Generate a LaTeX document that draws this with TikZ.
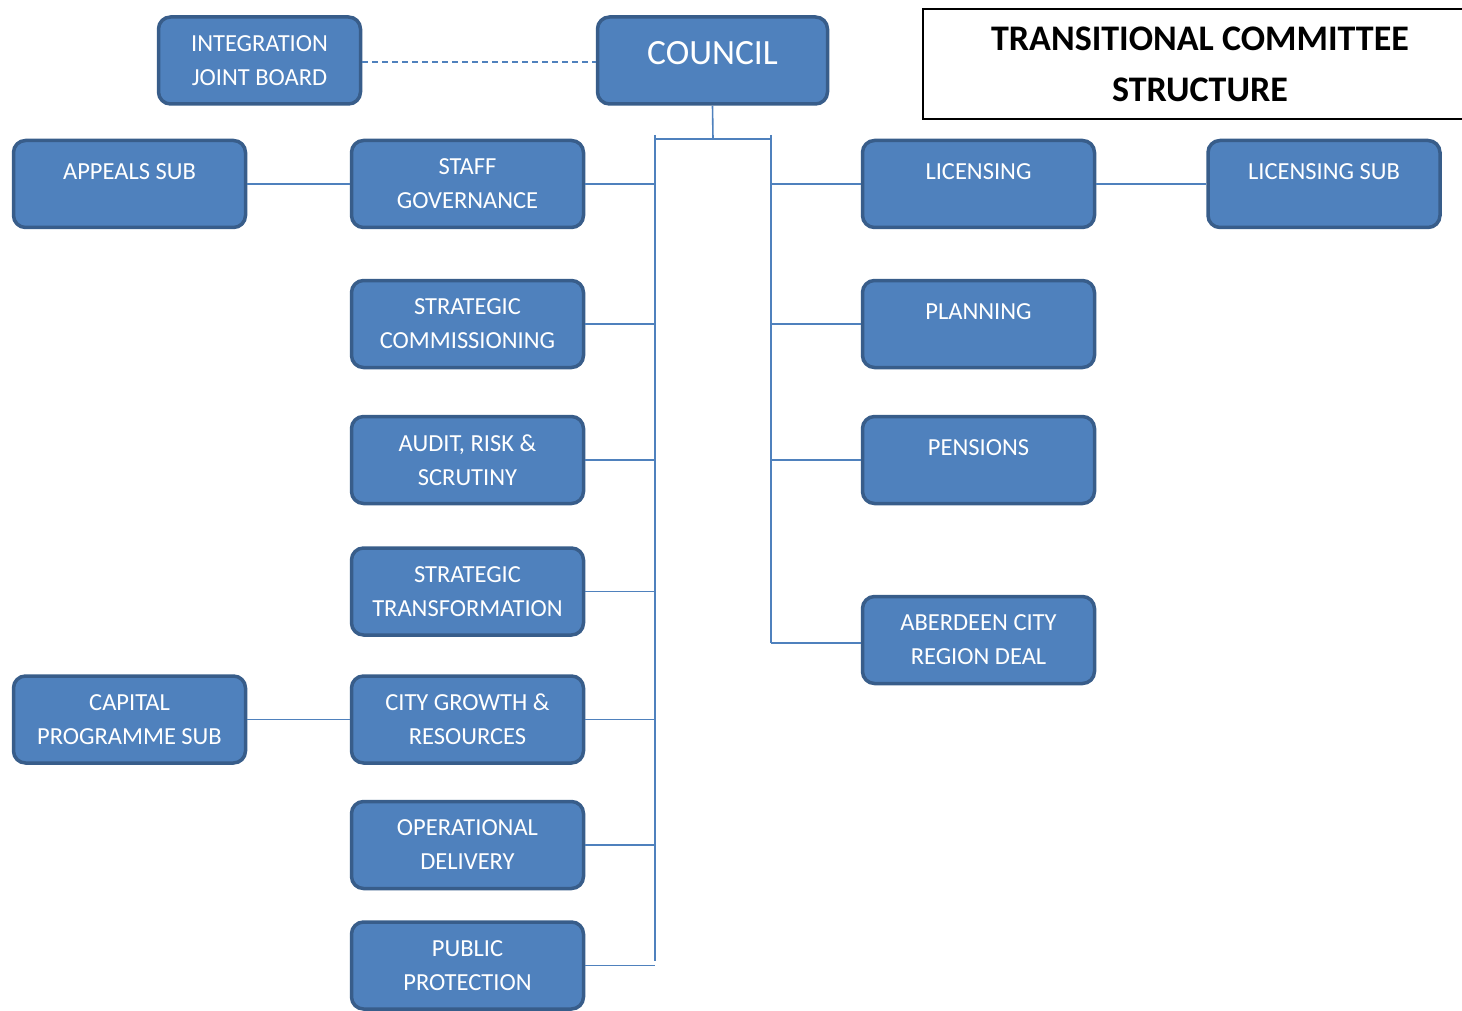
\documentclass[tikz,border=0pt]{standalone}
\usepackage{fontspec}
\setmainfont{Carlito}
\definecolor{boxfill}{HTML}{4F81BD}
\definecolor{boxedge}{HTML}{385D8A}

\begin{document}
\begin{tikzpicture}[x=1pt,y=-1pt,
  box/.style={draw=boxedge, line width=3.5pt, fill=boxfill, rounded corners=12pt,
    text=white, align=center, inner sep=0pt, minimum width=232pt, minimum height=87pt,
    font=\fontsize{24.5}{34}\selectfont},
  link/.style={draw=boxfill, line width=1.6pt},
  title/.style={draw=black, line width=1.5pt, align=center, inner sep=0pt,
    minimum width=554pt, minimum height=110pt, font=\fontsize{36}{51}\selectfont\bfseries}]

\useasboundingbox (0,0) rectangle (1462,1011);

% top row
\node[box, minimum width=202pt] (ijb) at (259.5,60.5) {INTEGRATION\\JOINT BOARD};
\node[box, minimum width=230pt, font=\fontsize{35.5}{40}\selectfont] (council) at (712.5,60.5) {\smash{\raisebox{-4pt}{COUNCIL}}};
\node[title] (title) at (1200,64) {TRANSITIONAL COMMITTEE\\STRUCTURE};

% left column
\node[box] (appeals) at (129.5,184) {APPEALS SUB\\[-9pt]\mbox{}};
\node[box] (staff) at (467.5,184) {STAFF\\GOVERNANCE};
\node[box] (commis) at (467.5,324) {STRATEGIC\\COMMISSIONING};
\node[box] (audit) at (467.5,460) {AUDIT, RISK \&\\SCRUTINY};
\node[box] (transf) at (467.5,591.5) {STRATEGIC\\TRANSFORMATION};
\node[box] (capital) at (129.5,719.5) {CAPITAL\\PROGRAMME SUB};
\node[box] (growth) at (467.5,719.5) {CITY GROWTH \&\\RESOURCES};
\node[box] (opdel) at (467.5,845) {OPERATIONAL\\DELIVERY};
\node[box] (public) at (467.5,965.5) {PUBLIC\\PROTECTION};

% right column
\node[box] (licens) at (978.5,184) {LICENSING\\[-9pt]\mbox{}};
\node[box] (licsub) at (1324,184) {LICENSING SUB\\[-9pt]\mbox{}};
\node[box] (planning) at (978.5,324) {PLANNING\\[-9pt]\mbox{}};
\node[box] (pensions) at (978.5,460) {PENSIONS\\[-9pt]\mbox{}};
\node[box] (acrd) at (978.5,640) {ABERDEEN CITY\\REGION DEAL};

% buses
\coordinate (cdrop) at (713,139);
\coordinate (busL) at (655,139);
\coordinate (busR) at (771,139);
\coordinate (busLtop) at (655,135);
\coordinate (busRtop) at (771,135);
\coordinate (busLend) at (655,961);
\coordinate (busRend) at (771,643);

\draw[link, dashed, dash pattern=on 6pt off 4pt] ([yshift=-1.5pt]ijb.east) -- ([yshift=-1.5pt]council.west);
\draw[link] (council.south) -- (cdrop);
\draw[link] (busL) -- (busR);
\draw[link] (busLtop) -- (busLend);
\draw[link] (busRtop) -- (busRend);

\foreach \n in {staff,commis,audit,transf,growth,opdel,public}
  \draw[link] (\n.east) -- (\n.east -| busL);
\foreach \n in {licens,planning,pensions}
  \draw[link] (\n.west) -- (\n.west -| busR);
\draw[link] (busRend) -- (acrd.west |- busRend);

\draw[link] (appeals.east) -- (staff.west);
\draw[link] (capital.east) -- (growth.west);
\draw[link] (licens.east) -- (licsub.west);
\end{tikzpicture}
\end{document}
